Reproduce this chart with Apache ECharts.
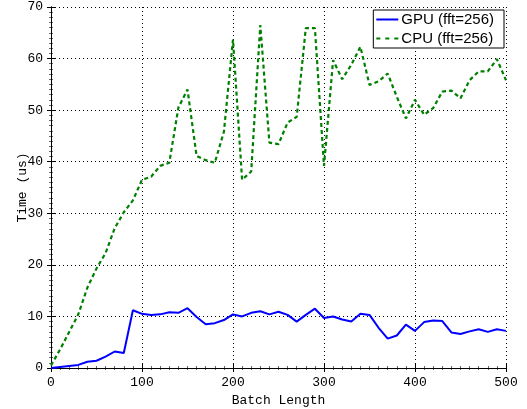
<!DOCTYPE html>
<html>
<head>
<meta charset="utf-8">
<script src="https://cdn.jsdelivr.net/npm/echarts@6/dist/echarts.min.js"></script>
<style>html,body{margin:0;padding:0;background:#fff;}#c{width:527px;height:409px;}</style>
</head>
<body>
<div id="c"></div>
<script>
const batchLength = [0,10,20,30,40,50,60,70,80,90,100,110,120,130,140,150,160,170,180,190,200,210,220,230,240,250,260,270,280,290,300,310,320,330,340,350,360,370,380,390,400,410,420,430,440,450,460,470,480,490,500];
const gpuTime = [0,0.2,0.4,0.6,1.2,1.4,2.2,3.2,2.9,11.2,10.5,10.3,10.4,10.8,10.7,11.6,9.9,8.5,8.7,9.3,10.4,10.0,10.7,11.0,10.4,10.9,10.3,9.0,10.3,11.5,9.7,10.0,9.4,9.0,10.5,10.3,7.8,5.7,6.3,8.4,7.2,8.9,9.2,9.1,6.9,6.6,7.1,7.5,7.0,7.5,7.2];
const cpuTime = [0.5,3.6,7.0,10.4,15.6,19.3,22.3,27.1,30.2,32.5,36.5,37.1,39.2,39.8,50.5,54.0,41.1,40.3,39.8,45.8,63.7,36.5,38.1,66.5,43.7,43.4,47.6,48.7,65.9,65.9,39.2,59.7,56.0,58.8,62.3,54.9,55.6,57.1,52.6,48.4,52.0,49.1,50.4,53.6,53.8,52.3,55.8,57.5,57.5,59.9,55.8];
const xTicks = [0,100,200,300,400,500];
const yTicks = [0,10,20,30,40,50,60,70];
const seriesNames = ['GPU (fft=256)','CPU (fft=256)'];

const mono = 'Liberation Mono';
const chart = echarts.init(document.getElementById('c'), null, {renderer:'canvas'});
const frameLine = {show:true, lineStyle:{color:'#000', width:1}};
const minor = {show:true, splitNumber:10, length:2, lineStyle:{color:'#000', width:0.6}};
const baseX = {type:'value', min:xTicks[0], max:xTicks[xTicks.length-1], interval:100};
const baseY = {type:'value', min:yTicks[0], max:yTicks[yTicks.length-1], interval:10};
chart.setOption({
  animation:false,
  backgroundColor:'#fff',
  grid:{left:51, top:7, width:455, height:361, containLabel:false, outerBoundsMode:'none'},
  legend:{
    right:23, top:10, orient:'vertical',
    data:[
      {name:seriesNames[0], icon:'path://M0,0H22V2H0Z'},
      {name:seriesNames[1], icon:'path://M0,0H4V2H0Z M9,0H13V2H9Z M18,0H22V2H18Z'}
    ],
    itemWidth:22, itemHeight:2, itemGap:4,
    padding:[2,10,2,3],
    borderColor:'#000', borderWidth:1, backgroundColor:'#fff',
    textStyle:{fontFamily:'Liberation Sans', fontSize:15, color:'#000', padding:[0,0,0,-2]}
  },
  xAxis:[
    Object.assign({}, baseX, {
      position:'bottom', name:'Batch Length', nameLocation:'middle', nameGap:26, nameMoveOverlap:false,
      nameTextStyle:{fontFamily:mono, fontSize:13, color:'#000'},
      axisLine:frameLine, axisTick:{show:true, inside:true, length:4, lineStyle:{color:'#000'}},
      minorTick:minor,
      axisLabel:{fontFamily:mono, fontSize:13, color:'#000', margin:8},
      splitLine:{show:true, lineStyle:{color:'#000', type:[1,3], width:1}}
    }),
    Object.assign({}, baseX, {
      position:'top', axisLine:frameLine, axisTick:{show:true, inside:true, length:4, lineStyle:{color:'#000'}},
      minorTick:minor, axisLabel:{show:false}, splitLine:{show:false}
    })
  ],
  yAxis:[
    Object.assign({}, baseY, {
      position:'left', name:'Time (us)', nameLocation:'middle', nameGap:22, nameMoveOverlap:false,
      nameTextStyle:{fontFamily:mono, fontSize:13, color:'#000'},
      axisLine:frameLine, axisTick:{show:true, inside:true, length:4, lineStyle:{color:'#000'}},
      minorTick:minor,
      axisLabel:{fontFamily:mono, fontSize:13, color:'#000', margin:8},
      splitLine:{show:true, lineStyle:{color:'#000', type:[1,3], width:1}}
    }),
    Object.assign({}, baseY, {
      position:'right', axisLine:frameLine, axisTick:{show:true, inside:true, length:4, lineStyle:{color:'#000'}},
      minorTick:minor, axisLabel:{show:false}, splitLine:{show:false}
    })
  ],
  series:[
    {name:seriesNames[0], type:'line', symbol:'none', data:batchLength.map((x,i)=>[x,gpuTime[i]]),
     lineStyle:{color:'#0000ff', width:2}, itemStyle:{color:'#0000ff'}, z:3},
    {name:seriesNames[1], type:'line', symbol:'none', data:batchLength.map((x,i)=>[x,cpuTime[i]]),
     lineStyle:{color:'#008000', width:2.2, type:[4,3]}, itemStyle:{color:'#008000'}, z:2}
  ]
});
</script>
</body>
</html>
